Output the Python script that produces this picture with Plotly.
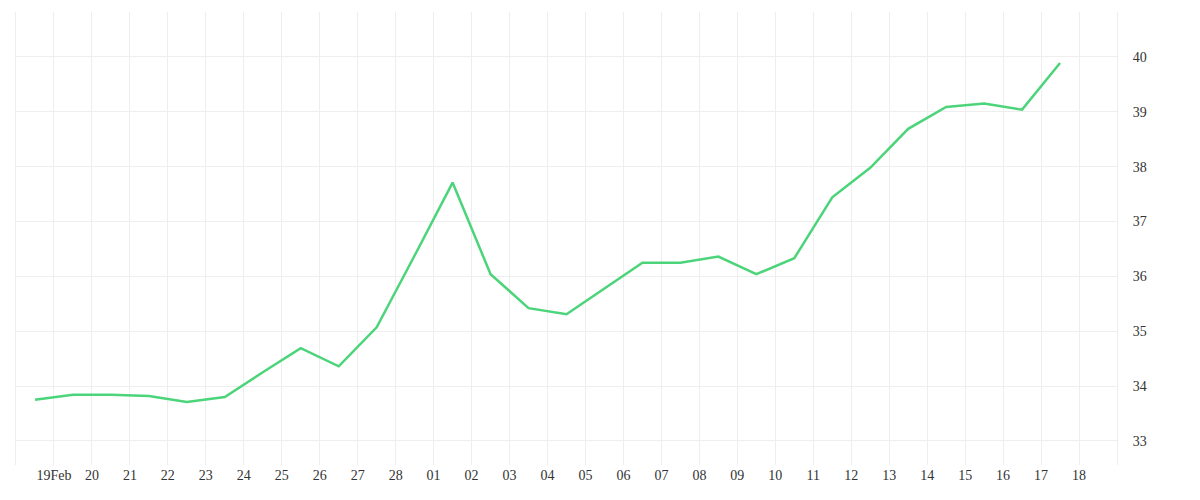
import plotly.graph_objects as go
import pandas as pd

dates = pd.date_range("2023-02-18 12:00", periods=28, freq="D")
values = [33.75, 33.84, 33.84, 33.82, 33.71, 33.80, 34.25, 34.69, 34.36, 35.07,
          36.38, 37.71, 36.04, 35.42, 35.31, 35.78, 36.25, 36.25, 36.36, 36.04,
          36.33, 37.44, 37.98, 38.69, 39.09, 39.15, 39.04, 39.89]
tick_dates = pd.date_range("2023-02-19", "2023-03-18", freq="D")
tick_text = ["19Feb"] + [d.strftime("%d") for d in tick_dates[1:]]
y_ticks = [33, 34, 35, 36, 37, 38, 39, 40]

fig = go.Figure(go.Scatter(x=dates, y=values, mode="lines",
                           line=dict(color="#4cd47a", width=2.5), hoverinfo="x+y"))
fig.update_layout(
    width=1200, height=500, paper_bgcolor="white", plot_bgcolor="white",
    margin=dict(l=8, r=91, t=4, b=43), showlegend=False,
    font=dict(family="Liberation Serif, serif", size=14, color="#333"),
)
fig.update_xaxes(range=["2023-02-18", "2023-03-19"], tickvals=tick_dates, ticktext=tick_text,
                 showgrid=True, gridcolor="#eeeeee", zeroline=False, ticks="", showline=False)
fig.update_yaxes(side="right", range=[32.56, 40.82], tickvals=y_ticks, showgrid=True,
                 gridcolor="#eeeeee", zeroline=False, ticks="", showline=True,
                 linecolor="#eeeeee", mirror=True, ticklabelstandoff=12)
fig.write_html("out.html")
